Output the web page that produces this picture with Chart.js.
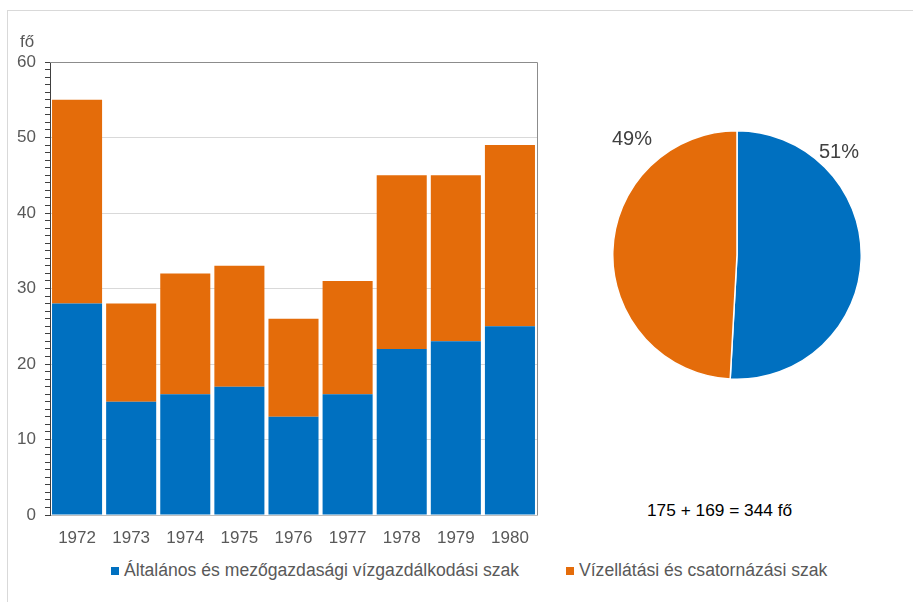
<!DOCTYPE html>
<html>
<head>
<meta charset="utf-8">
<script src="https://cdn.jsdelivr.net/npm/chart.js@4/dist/chart.umd.min.js"></script>
<style>
  html, body { margin: 0; padding: 0; background: #fff; width: 913px; height: 602px; overflow: hidden; }
  body { position: relative; font-family: "Liberation Sans", Arial, sans-serif; }
  #frame { position: absolute; left: 7px; top: 10px; width: 906px; height: 592px; border-top: 1px solid #d9d9d9; border-left: 1px solid #d9d9d9; }
  #barWrap { position: absolute; left: 0; top: 0; width: 560px; height: 560px; }
  #pieWrap { position: absolute; left: 612px; top: 130px; width: 250px; height: 250px; }
  .txt { position: absolute; white-space: nowrap; line-height: 1; }
  #unit { left: 20px; top: 33px; font-size: 17px; color: #595959; }
  #p0 { left: 819px; top: 141px; font-size: 20px; color: #404040; }
  #p1 { left: 612px; top: 128px; font-size: 20px; color: #404040; }
  #sum { left: 647px; top: 502px; font-size: 17.3px; color: #000; }
  .leg { top: 562px; font-size: 17.6px; color: #595959; }
  .sw { position: absolute; width: 8px; height: 8px; top: 567px; }
</style>
</head>
<body>
<div id="frame"></div>
<div id="barWrap"><canvas id="bar" width="560" height="560"></canvas></div>
<div id="pieWrap"><canvas id="pie" width="250" height="250"></canvas></div>
<div class="txt" id="unit">fő</div>
<div class="txt" id="p0"></div>
<div class="txt" id="p1"></div>
<div class="txt" id="sum"></div>
<div class="sw" id="sw0" style="left:111px;"></div>
<div class="txt leg" id="l0" style="left:124px;"></div>
<div class="sw" id="sw1" style="left:566px;"></div>
<div class="txt leg" id="l1" style="left:579px;"></div>
<script>
const years = ['1972','1973','1974','1975','1976','1977','1978','1979','1980'];
const seriesNames = ['Általános és mezőgazdasági vízgazdálkodási szak', 'Vízellátási és csatornázási szak'];
const general = [28, 15, 16, 17, 13, 16, 22, 23, 25];
const water = [27, 13, 16, 16, 13, 15, 23, 22, 24];
const yTicks = [0, 10, 20, 30, 40, 50, 60];
const colors = ['#0070c0', '#e46c0a'];

const sumA = general.reduce((a, b) => a + b, 0);
const sumB = water.reduce((a, b) => a + b, 0);
const total = sumA + sumB;

document.getElementById('sum').textContent = sumA + ' + ' + sumB + ' = ' + total + ' fő';
document.getElementById('p0').textContent = Math.round(sumA / total * 100) + '%';
document.getElementById('p1').textContent = Math.round(sumB / total * 100) + '%';
document.getElementById('l0').textContent = seriesNames[0];
document.getElementById('l1').textContent = seriesNames[1];
document.getElementById('sw0').style.background = colors[0];
document.getElementById('sw1').style.background = colors[1];

const FONT = "'Liberation Sans', Arial, sans-serif";

const frameBox = {
  id: 'frameBox',
  afterDraw(chart) {
    const a = chart.chartArea, ctx = chart.ctx;
    ctx.save();
    ctx.strokeStyle = '#8c8c8c';
    ctx.lineWidth = 1;
    ctx.beginPath();
    ctx.moveTo(a.left, a.top + 0.5);
    ctx.lineTo(a.right + 0.5, a.top + 0.5);
    ctx.lineTo(a.right + 0.5, a.bottom);
    ctx.stroke();
    ctx.restore();
  }
};

new Chart(document.getElementById('bar'), {
  type: 'bar',
  data: {
    labels: years,
    datasets: [
      { label: seriesNames[0], data: general, backgroundColor: colors[0], barPercentage: 0.925, categoryPercentage: 1 },
      { label: seriesNames[1], data: water, backgroundColor: colors[1], barPercentage: 0.925, categoryPercentage: 1 }
    ]
  },
  options: {
    responsive: false,
    devicePixelRatio: 1,
    animation: false,
    layout: { padding: { top: 62, right: 23, left: 0, bottom: 0 } },
    plugins: { legend: { display: false }, tooltip: { enabled: false } },
    scales: {
      x: {
        stacked: true,
        grid: { display: false, drawTicks: false },
        border: { color: '#bfbfbf', width: 1 },
        ticks: { color: '#595959', font: { family: FONT, size: 17 }, padding: 13, maxRotation: 0 },
        afterFit(s) { s.height = 45; }
      },
      y: {
        stacked: true,
        min: yTicks[0],
        max: yTicks[yTicks.length - 1],
        ticks: {
          stepSize: 1,
          autoSkip: false,
          color: '#595959',
          font: { family: FONT, size: 17 },
          padding: 9,
          callback: (v) => yTicks.includes(v) ? String(v) : ''
        },
        grid: {
          color: (c) => (c.tick && yTicks.includes(c.tick.value) && c.tick.value !== 0) ? '#d9d9d9' : 'rgba(0,0,0,0)',
          tickColor: '#404040',
          tickLength: 5,
          drawOnChartArea: true
        },
        border: { color: '#404040', width: 1 },
        afterFit(s) { s.width = 50; }
      }
    }
  },
  plugins: [frameBox]
});

new Chart(document.getElementById('pie'), {
  type: 'pie',
  data: {
    labels: seriesNames,
    datasets: [{ data: [sumA, sumB], backgroundColor: colors, borderColor: '#ffffff', borderWidth: 1.5, hoverOffset: 0, offset: 0 }]
  },
  options: {
    responsive: false,
    devicePixelRatio: 1,
    animation: false,
    layout: { padding: 0 },
    plugins: { legend: { display: false }, tooltip: { enabled: false } }
  }
});
</script>
</body>
</html>
